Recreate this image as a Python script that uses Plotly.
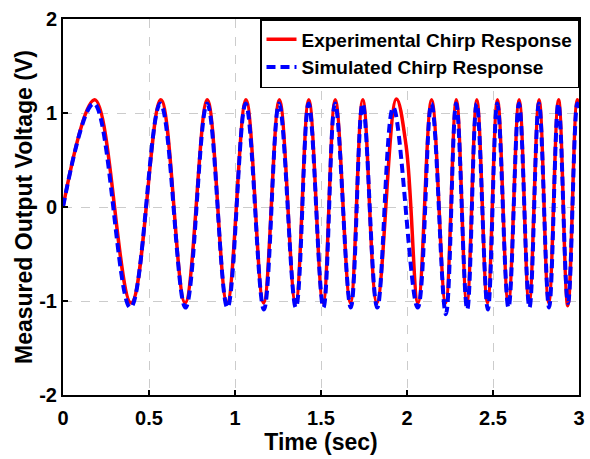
import plotly.graph_objects as go

# Experimental chirp response: times (s) and voltages (V) read at start, peaks and troughs
exp_t = [0.0, 0.185, 0.396, 0.569, 0.71, 0.839, 0.954, 1.064, 1.166, 1.258, 1.352,
         1.429, 1.512, 1.583, 1.671, 1.743, 1.825, 1.938, 1.995, 2.064, 2.143, 2.224,
         2.287, 2.348, 2.406, 2.468, 2.526, 2.589, 2.652, 2.71, 2.768, 2.824, 2.881,
         2.935, 2.99, 3.0]
exp_v = [0.0, 1.14, -1.02, 1.14, -1.02, 1.14, -1.02, 1.14, -1.02, 1.14, -1.02,
         1.14, -1.02, 1.14, -1.02, 1.14, -1.02, 1.15, 0.65, -1.02, 1.14, -1.02,
         1.14, -1.02, 1.14, -1.02, 1.14, -1.02, 1.14, -1.02, 1.14, -1.02, 1.14,
         -1.05, 1.14, 1.08]

# Simulated chirp response
sim_t = [0.0, 0.18, 0.392, 0.566, 0.712, 0.838, 0.956, 1.062, 1.168, 1.256, 1.354,
         1.428, 1.514, 1.582, 1.673, 1.742, 1.827, 1.92, 2.062, 2.142, 2.226,
         2.286, 2.35, 2.405, 2.47, 2.525, 2.59, 2.651, 2.712, 2.767, 2.826, 2.88,
         2.936, 2.99, 3.0]
sim_v = [0.0, 1.1, -1.07, 1.1, -1.07, 1.1, -1.07, 1.1, -1.09, 1.1, -1.07,
         1.1, -1.07, 1.1, -1.07, 1.1, -1.07, 1.06, -1.07, 1.1, -1.14,
         1.1, -1.09, 1.1, -1.09, 1.1, -1.07, 1.1, -1.07, 1.1, -1.07, 1.1,
         -1.02, 1.1, 1.04]

x_ticks = [0, 0.5, 1, 1.5, 2, 2.5, 3]
x_tick_labels = ["0", "0.5", "1", "1.5", "2", "2.5", "3"]
y_ticks = [-2, -1, 0, 1, 2]
y_tick_labels = ["-2", "-1", "0", "1", "2"]

FONT = "Liberation Sans, Arial, sans-serif"

fig = go.Figure()
fig.add_trace(go.Scatter(x=exp_t, y=exp_v, mode="lines", name="<b>Experimental Chirp Response</b>",
                         line=dict(color="#ff0000", width=3.5, shape="spline", smoothing=1.1)))
fig.add_trace(go.Scatter(x=sim_t, y=sim_v, mode="lines", name="<b>Simulated Chirp Response</b>",
                         line=dict(color="#0000ff", width=4, dash="9px,5px", shape="spline", smoothing=1.1)))

axis_common = dict(showline=True, linecolor="black", linewidth=2, mirror=True,
                   ticks="inside", ticklen=5, tickwidth=1.5, tickcolor="black",
                   showgrid=True, gridcolor="#cccccc", griddash="dash", gridwidth=1.3,
                   zeroline=False, tickfont=dict(family=FONT, size=20, color="black"))

fig.update_xaxes(range=[0, 3], tickvals=x_ticks, ticktext=[f"<b>{t}</b>" for t in x_tick_labels],
                 ticklabelstandoff=4,
                 title=dict(text="<b>Time (sec)</b>", font=dict(family=FONT, size=23, color="black"), standoff=6),
                 **axis_common)
fig.update_yaxes(range=[-2, 2], tickvals=y_ticks, ticktext=[f"<b>{t}</b>" for t in y_tick_labels],
                 title=dict(text="<b>Measured Output Voltage (V)</b>", font=dict(family=FONT, size=23, color="black"), standoff=0),
                 **axis_common)

fig.update_layout(
    width=590, height=459,
    margin=dict(l=63, r=5, t=19, b=64),
    plot_bgcolor="white", paper_bgcolor="white",
    font=dict(family=FONT, color="black"),
    legend=dict(x=1, y=1, xanchor="right", yanchor="top",
                bgcolor="white", bordercolor="black", borderwidth=1.5,
                font=dict(family=FONT, size=19, color="black"),
                tracegroupgap=0, itemwidth=30),
    showlegend=True,
)

fig.write_html("out.html")
